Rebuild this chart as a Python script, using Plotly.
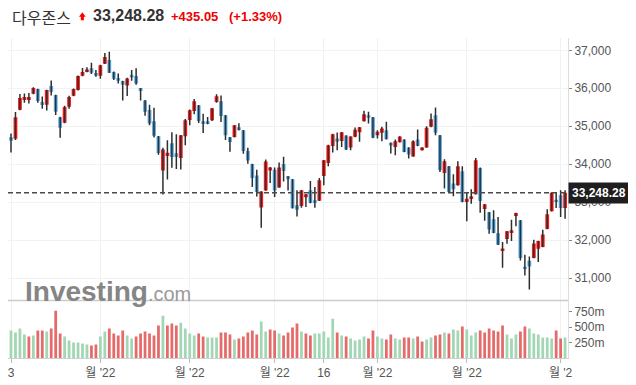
import plotly.graph_objects as go

# ---------------- data ----------------
opens = [34712, 34668, 35434, 35689, 35689, 35856, 35979, 35636, 35566, 36058,
         35821, 35240, 35090, 35513, 35803, 35953, 36331, 36428, 36525, 36401,
         36331, 36648, 36745, 36428, 36269, 36190, 36076, 36357, 36322, 36006,
         35680, 35425, 35134, 34734, 33836, 34214, 34549, 34285, 34162, 34734,
         35165, 35402, 35552, 35130, 35130, 35156, 35640, 35658, 35288, 34707,
         34716, 34971, 34892, 34346, 34003, 33704, 32859, 33308, 33836, 33854,
         33387, 34003, 33680, 33605, 32916, 32898, 33127, 33312, 33048, 33039,
         33690, 34034, 34482, 34676, 34614, 34755, 34438, 34720, 34843, 35134,
         35292, 35239, 34764, 34826, 34896, 34562, 34456, 34579, 34650, 34438,
         34201, 34650, 34368, 34438, 34984, 35292, 34764, 33770, 33946, 33488,
         33444, 33814, 33004, 33083, 33206, 33902, 32819, 32731, 32546, 32177,
         31710, 32027, 32186, 32634, 32520, 31297, 31455, 31526, 31772, 31816,
         32291, 32758, 33066, 33180, 32846]
highs = [34809, 35372, 35847, 35865, 35874, 36030, 35990, 35786, 35960, 36208,
         35830, 35250, 35539, 35803, 35997, 36340, 36534, 36551, 36674, 36481,
         36622, 36930, 36965, 36440, 36392, 36200, 36278, 36481, 36525, 36010,
         35690, 35566, 35490, 34740, 34434, 34628, 34839, 34786, 34770, 35191,
         35438, 35719, 35560, 35332, 35244, 35480, 35842, 35807, 35295, 34715,
         35030, 35077, 34900, 34434, 34010, 33854, 33290, 34126, 33925, 33915,
         34047, 34197, 33690, 33612, 33312, 33320, 33215, 33558, 33400, 33638,
         34110, 34510, 34800, 34834, 34850, 34765, 34735, 34966, 34980, 35406,
         35380, 35245, 34896, 34984, 35116, 34570, 34650, 34735, 34658, 34445,
         34630, 34914, 34445, 35000, 35336, 35494, 34770, 34130, 33955, 33734,
         34078, 33946, 33250, 33338, 34166, 33910, 32950, 32740, 32784, 32608,
         31948, 32238, 32538, 32720, 32528, 31614, 31570, 32010, 31982, 32274,
         32810, 33258, 33268, 33312, 33312]
lows = [34307, 34640, 35420, 35618, 35601, 35840, 35618, 35460, 35416, 35812,
        35293, 34694, 35080, 35460, 35790, 35940, 36320, 36420, 36375, 36305,
        36252, 36640, 36400, 36217, 36129, 35680, 35794, 36199, 36094, 35680,
        35275, 35029, 34700, 34250, 33202, 33598, 33906, 33871, 33862, 34496,
        35024, 35314, 35086, 34822, 35050, 35140, 35620, 35112, 34637, 34329,
        34700, 34890, 34276, 34012, 33396, 33150, 32322, 33300, 33502, 33132,
        33380, 33546, 33305, 32830, 32620, 32854, 32872, 32970, 32854, 33030,
        33444, 33946, 34306, 34368, 34456, 34376, 34368, 34710, 34588, 35125,
        35072, 34685, 34676, 34606, 34650, 34280, 34236, 34570, 34315, 34148,
        34195, 34475, 34360, 34430, 34975, 34764, 33796, 33356, 33260, 33154,
        33435, 32995, 32494, 32960, 33200, 32722, 32511, 32168, 32178, 31870,
        31270, 31904, 31974, 32362, 31464, 31068, 30698, 31520, 31420, 31810,
        32285, 32750, 32846, 32608, 32564]
closes = [34615, 35240, 35742, 35768, 35768, 36006, 35662, 35557, 35953, 35900,
          35381, 34958, 35504, 35768, 35979, 36322, 36428, 36498, 36410, 36331,
          36604, 36824, 36410, 36252, 36199, 36094, 36261, 36287, 36129, 35926,
          35381, 35073, 34747, 34294, 34390, 34302, 34188, 34188, 34760, 35156,
          35420, 35658, 35138, 35059, 35059, 35473, 35790, 35270, 34760, 34584,
          35024, 34901, 34346, 34100, 33634, 33264, 33282, 34074, 33915, 33308,
          33915, 33818, 33605, 32840, 32802, 33312, 33206, 32978, 32978, 33576,
          34104, 34500, 34790, 34588, 34843, 34386, 34729, 34905, 34975, 35318,
          35222, 34694, 34852, 34940, 34658, 34491, 34606, 34729, 34324, 34254,
          34606, 34482, 34438, 34958, 35186, 34826, 33840, 34078, 33268, 33338,
          33946, 33004, 33092, 33154, 34104, 33030, 32942, 32282, 32186, 31878,
          31781, 32230, 32256, 32714, 31526, 31235, 31306, 31913, 31974, 32150,
          32678, 33250, 33004, 32846, 33248.28]
# volume in millions
volumes = [446, 414, 478, 382, 349, 366, 446, 446, 430, 478,
           769, 398, 349, 285, 253, 253, 237, 220, 204, 220,
           349, 430, 478, 398, 366, 446, 366, 317, 349, 398,
           430, 398, 366, 527, 688, 527, 559, 527, 575, 478,
           398, 366, 398, 349, 333, 333, 333, 414, 414, 382,
           301, 317, 349, 414, 446, 382, 592, 430, 462, 446,
           398, 366, 414, 494, 559, 430, 398, 366, 398, 398,
           430, 333, 640, 414, 366, 349, 317, 285, 301, 349,
           317, 446, 349, 317, 301, 382, 317, 301, 333, 333,
           317, 349, 269, 301, 333, 366, 382, 414, 398, 462,
           446, 511, 462, 366, 414, 446, 414, 478, 446, 430,
           527, 382, 317, 382, 430, 511, 478, 398, 382, 333,
           333, 317, 446, 317, 333]
vol_dir = list("GGGGRGRRGRRRGGGGGGRRGGRRRRGGRRRRRRGRRRGGGGRRGGGRRRGRRRRRGGRRGRRRRGRRGG"
               "GGGRGRGGGGRRGGRRGGRRGRRGGRRGRGGRGGGRRRRRRGGGRRGGGGGGRRG")
tick_idx = [0, 20, 40, 59, 70, 82, 102, 123]
tick_text = ["3", "월 '22", "월 '22", "월 '22", "16", "월 '22", "월 '22", "월 '2"]
price_ticks = [31000, 32000, 33000, 34000, 35000, 36000, 37000]
vol_ticks = [250, 500, 750]
title_name = "다우존스"
last_price = 33248.28
change_text = "+435.05"
change_pct_text = "(+1.33%)"

# ---------------- layout geometry ----------------
# the page body has an 8px margin, so the figure is drawn 8px in from the window edge
OFF = 8
W, H = 636 - OFF, 385 - OFF
ML, MR, MT, MB = 0, 68, 38 - OFF, 27
PW, PH = W - ML - MR, H - MT - MB
def px(x):   # window pixel -> paper x
    return (x - OFF - ML) / PW
def py(y):   # window pixel -> paper y
    return (H - MB - (y - OFF)) / PH

split = py(300.5)
n = len(closes)
idx = list(range(n))
step = 4.466
xr = [-(11 - OFF) / step, 124.65]

UP, DOWN = "#ff1a1a", "#58a8df"
fig = go.Figure()

# wicks
wx, wy = [], []
for i in idx:
    wx += [i, i, None]
    wy += [lows[i], highs[i], None]
fig.add_trace(go.Scatter(x=wx, y=wy, mode="lines", line=dict(color="#2e2e2e", width=1.5),
                         xaxis="x", yaxis="y", hoverinfo="skip", showlegend=False))
# bodies
fig.add_trace(go.Bar(x=idx, y=[abs(closes[i] - opens[i]) for i in idx],
                     base=[min(opens[i], closes[i]) for i in idx],
                     marker=dict(color=[UP if closes[i] >= opens[i] else DOWN for i in idx], line=dict(width=0)),
                     width=0.85, xaxis="x", yaxis="y", showlegend=False))
# volume
fig.add_trace(go.Bar(x=idx, y=volumes,
                     marker=dict(color=["#a3d6b5" if d == "G" else "#e56a6a" for d in vol_dir], line=dict(width=0)),
                     width=0.62, xaxis="x2", yaxis="y2", showlegend=False))

font_fam = "Liberation Sans, Arial, Noto Sans CJK KR, sans-serif"
fig.update_layout(
    width=W, height=H, margin=dict(l=ML, r=MR, t=MT, b=MB, pad=0),
    paper_bgcolor="white", plot_bgcolor="white",
    font=dict(family=font_fam, size=12, color="#555"),
    showlegend=False, barmode="overlay",
    xaxis=dict(domain=[0, 1], range=xr, anchor="y", tickvals=tick_idx, showticklabels=False,
               showgrid=True, gridcolor="#f1f1f1", gridwidth=1, zeroline=False, ticks=""),
    xaxis2=dict(domain=[0, 1], range=xr, anchor="y2", tickvals=tick_idx, ticktext=tick_text,
                showgrid=True, gridcolor="#f1f1f1", zeroline=False, showline=True, linecolor="#cfcfcf",
                ticks="outside", ticklen=4, tickcolor="#bbbbbb", ticklabeloverflow="allow",
                tickfont=dict(size=12, color="#555")),
    yaxis=dict(domain=[split, 1], range=[30408, 37325], side="right", anchor="x",
               tickvals=price_ticks, ticktext=[f"{v:,}" for v in price_ticks],
               showgrid=True, gridcolor="#f2f2f2", zeroline=False, showline=True, linecolor="#dddddd",
               ticks="outside", ticklen=3, tickcolor="#888", tickfont=dict(size=12, color="#555")),
    yaxis2=dict(domain=[0, split], range=[0, 935], side="right", anchor="x2",
                tickvals=vol_ticks, ticktext=[f"{v}m" for v in vol_ticks],
                showgrid=False, zeroline=False, showline=True, linecolor="#dddddd",
                ticks="outside", ticklen=3, tickcolor="#888", tickfont=dict(size=12, color="#555")),
)

# separator line and last-price dashed line
fig.add_shape(type="line", xref="paper", yref="paper", x0=0, x1=1, y0=split, y1=split,
              line=dict(color="#cccccc", width=1.5))
fig.add_shape(type="line", xref="paper", yref="y", x0=0, x1=1, y0=last_price, y1=last_price,
              line=dict(color="#4a4a4a", width=1.5, dash="5px,3px"))

# watermark
fig.add_annotation(xref="paper", yref="paper", x=px(23), y=py(291), xanchor="left", yanchor="middle",
                   showarrow=False,
                   text="<b>Investing</b><span style='font-size:20px;color:#9a9a9a'>.com</span>",
                   font=dict(family="Liberation Sans, Arial, sans-serif", size=28, color="#858585"))

# last price tag
fig.add_annotation(xref="paper", yref="y", x=1, y=last_price, xanchor="left", yanchor="middle",
                   showarrow=False, text=f"<b>{last_price:,.2f}</b>", bgcolor="#1e1e1e", borderpad=3,
                   font=dict(size=12, color="white"))

# header
fig.add_annotation(xref="paper", yref="paper", x=px(9.5), y=py(17), xanchor="left", yanchor="middle",
                   showarrow=False, text=title_name,
                   font=dict(family="Noto Sans CJK KR", size=16, color="#333"))
ax0, ax1, axm = 79, 85.7, 82.35
path = (f"M {px(axm)},{py(12.3)} L {px(ax1)},{py(16.8)} L {px(83.9)},{py(16.8)} L {px(83.9)},{py(20.3)} "
        f"L {px(80.8)},{py(20.3)} L {px(80.8)},{py(16.8)} L {px(ax0)},{py(16.8)} Z")
fig.add_shape(type="path", xref="paper", yref="paper", path=path, fillcolor="#ff0000", line=dict(width=0))
fig.add_annotation(xref="paper", yref="paper", x=px(91), y=py(16), xanchor="left", yanchor="middle",
                   showarrow=False, text=f"<b>{last_price:,.2f}</b>",
                   font=dict(family="Liberation Sans, Arial", size=16, color="#333"))
fig.add_annotation(xref="paper", yref="paper", x=px(169), y=py(17), xanchor="left", yanchor="middle",
                   showarrow=False, text=f"<b>{change_text}</b>",
                   font=dict(family="Liberation Sans, Arial", size=13, color="#ee0000"))
fig.add_annotation(xref="paper", yref="paper", x=px(227), y=py(17), xanchor="left", yanchor="middle",
                   showarrow=False, text=f"<b>{change_pct_text}</b>",
                   font=dict(family="Liberation Sans, Arial", size=13, color="#ee0000"))

fig.write_html("out.html")
